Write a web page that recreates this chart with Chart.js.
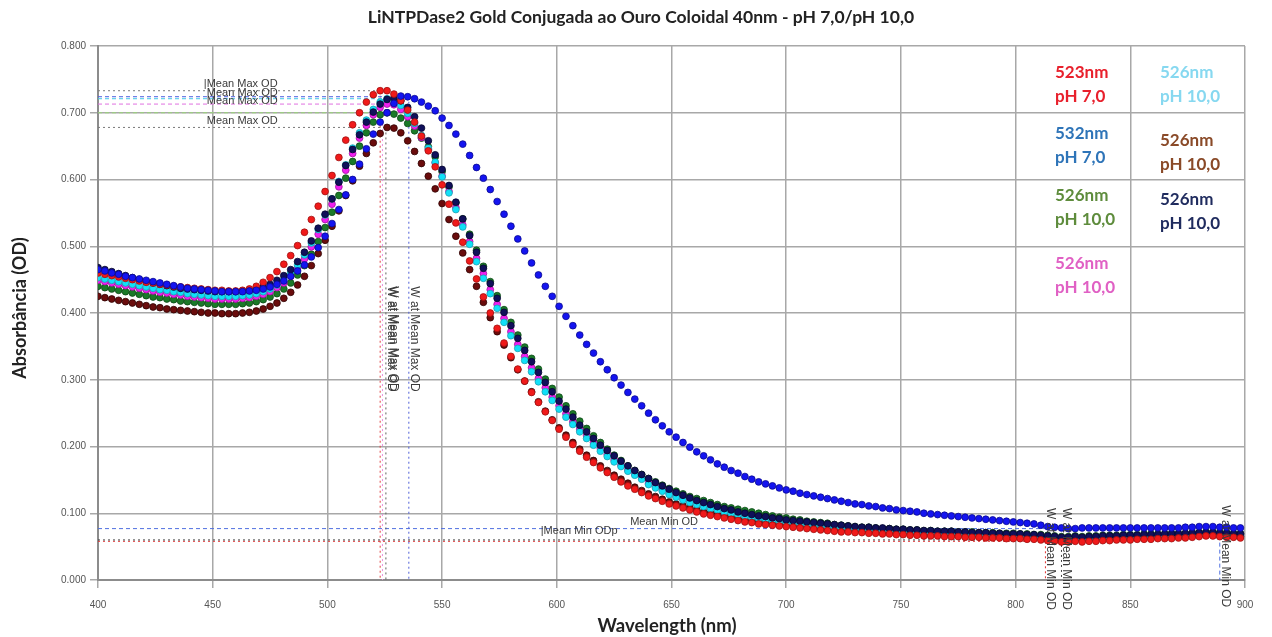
<!DOCTYPE html>
<html>
<head>
<meta charset="utf-8">
<script src="https://cdn.jsdelivr.net/npm/chart.js@4"></script>
<style>
  body { margin: 0; background: #fff; }
  canvas { display: block; }
</style>
</head>
<body>
<canvas id="chart" width="1272" height="637"></canvas>
<script>
// Chart data

const chartTitle = 'LiNTPDase2 Gold Conjugada ao Ouro Coloidal 40nm - pH 7,0/pH 10,0';

const wavelengths = [
    400,403,406,409,412,415,418,421,424,427,
    430,433,436,439,442,445,448,451,454,457,
    460,463,466,469,472,475,478,481,484,487,
    490,493,496,499,502,505,508,511,514,517,
    520,523,526,529,532,535,538,541,544,547,
    550,553,556,559,562,565,568,571,574,577,
    580,583,586,589,592,595,598,601,604,607,
    610,613,616,619,622,625,628,631,634,637,
    640,643,646,649,652,655,658,661,664,667,
    670,673,676,679,682,685,688,691,694,697,
    700,703,706,709,712,715,718,721,724,727,
    730,733,736,739,742,745,748,751,754,757,
    760,763,766,769,772,775,778,781,784,787,
    790,793,796,799,802,805,808,811,814,817,
    820,823,826,829,832,835,838,841,844,847,
    850,853,856,859,862,865,868,871,874,877,
    880,883,886,889,892,895,898
];

// 523nm pH 7,0
const odRed = [
    0.460,0.458,0.456,0.454,0.452,0.450,0.448,0.446,0.445,0.443,
    0.442,0.440,0.439,0.438,0.437,0.436,0.435,0.434,0.434,0.433,
    0.433,0.434,0.436,0.440,0.446,0.453,0.462,0.473,0.486,0.501,
    0.521,0.540,0.560,0.582,0.606,0.633,0.659,0.682,0.700,0.716,
    0.727,0.733,0.733,0.728,0.718,0.704,0.686,0.665,0.643,0.619,
    0.592,0.563,0.535,0.506,0.478,0.451,0.424,0.400,0.377,0.355,
    0.335,0.316,0.298,0.281,0.266,0.252,0.239,0.226,0.214,0.203,
    0.193,0.184,0.176,0.168,0.161,0.154,0.147,0.141,0.136,0.131,
    0.126,0.122,0.118,0.114,0.111,0.108,0.105,0.102,0.099,0.097,
    0.095,0.093,0.091,0.089,0.087,0.086,0.084,0.083,0.082,0.081,
    0.080,0.079,0.078,0.077,0.076,0.075,0.074,0.073,0.072,0.072,
    0.071,0.071,0.070,0.070,0.069,0.069,0.068,0.068,0.067,0.067,
    0.066,0.066,0.066,0.065,0.065,0.065,0.064,0.064,0.064,0.063,
    0.063,0.063,0.062,0.062,0.062,0.061,0.061,0.060,0.059,0.058,
    0.057,0.057,0.058,0.057,0.058,0.058,0.059,0.059,0.060,0.060,
    0.060,0.061,0.061,0.061,0.062,0.062,0.062,0.063,0.063,0.064,
    0.065,0.066,0.066,0.065,0.064,0.064,0.063
];

// 532nm pH 7,0
const odBlue = [
    0.465,0.463,0.460,0.458,0.455,0.453,0.451,0.449,0.447,0.445,
    0.443,0.441,0.439,0.437,0.436,0.435,0.434,0.433,0.432,0.432,
    0.432,0.432,0.433,0.434,0.436,0.439,0.443,0.448,0.455,0.463,
    0.472,0.484,0.498,0.515,0.534,0.555,0.577,0.600,0.623,0.646,
    0.668,0.686,0.700,0.714,0.725,0.724,0.721,0.716,0.710,0.703,
    0.692,0.681,0.668,0.653,0.636,0.618,0.602,0.585,0.567,0.548,
    0.530,0.511,0.493,0.475,0.457,0.440,0.425,0.410,0.395,0.381,
    0.367,0.353,0.340,0.327,0.315,0.303,0.292,0.281,0.271,0.261,
    0.250,0.240,0.231,0.222,0.214,0.206,0.199,0.192,0.186,0.180,
    0.174,0.169,0.164,0.160,0.155,0.151,0.147,0.144,0.141,0.138,
    0.135,0.133,0.130,0.128,0.126,0.124,0.122,0.120,0.118,0.116,
    0.114,0.113,0.111,0.110,0.108,0.107,0.105,0.104,0.103,0.102,
    0.100,0.099,0.098,0.097,0.096,0.095,0.094,0.093,0.092,0.091,
    0.090,0.089,0.088,0.087,0.086,0.085,0.084,0.082,0.080,0.079,
    0.078,0.077,0.077,0.078,0.078,0.078,0.078,0.078,0.078,0.078,
    0.078,0.078,0.078,0.078,0.078,0.078,0.078,0.078,0.079,0.079,
    0.080,0.080,0.080,0.079,0.079,0.078,0.078
];

// 526nm pH 10,0 (green)
const odGreen = [
    0.440,0.438,0.436,0.434,0.432,0.430,0.428,0.426,0.424,0.423,
    0.421,0.420,0.418,0.417,0.416,0.415,0.414,0.413,0.413,0.413,
    0.413,0.414,0.415,0.417,0.420,0.424,0.429,0.436,0.445,0.457,
    0.471,0.488,0.507,0.528,0.551,0.576,0.602,0.627,0.650,0.670,
    0.686,0.697,0.700,0.698,0.692,0.684,0.673,0.662,0.649,0.634,
    0.612,0.589,0.565,0.541,0.518,0.494,0.470,0.447,0.426,0.405,
    0.386,0.367,0.349,0.332,0.316,0.301,0.287,0.274,0.261,0.249,
    0.238,0.227,0.216,0.206,0.196,0.187,0.179,0.171,0.164,0.158,
    0.152,0.147,0.142,0.137,0.133,0.129,0.125,0.122,0.119,0.116,
    0.113,0.110,0.108,0.106,0.104,0.102,0.100,0.098,0.096,0.094,
    0.093,0.091,0.090,0.088,0.087,0.086,0.085,0.083,0.082,0.081,
    0.080,0.079,0.079,0.078,0.077,0.077,0.076,0.076,0.075,0.075,
    0.074,0.074,0.073,0.073,0.073,0.072,0.072,0.072,0.071,0.071,
    0.071,0.070,0.070,0.070,0.069,0.069,0.068,0.068,0.067,0.066,
    0.065,0.065,0.066,0.065,0.066,0.066,0.067,0.067,0.067,0.068,
    0.068,0.068,0.069,0.069,0.069,0.069,0.070,0.070,0.070,0.071,
    0.071,0.072,0.072,0.071,0.071,0.070,0.070
];

// 526nm pH 10,0 (magenta)
const odMagenta = [
    0.449,0.447,0.445,0.443,0.441,0.439,0.437,0.435,0.433,0.431,
    0.430,0.428,0.427,0.425,0.424,0.423,0.422,0.421,0.421,0.421,
    0.421,0.422,0.423,0.425,0.428,0.432,0.438,0.445,0.455,0.467,
    0.481,0.499,0.518,0.540,0.563,0.589,0.614,0.639,0.662,0.681,
    0.697,0.708,0.713,0.712,0.705,0.694,0.680,0.663,0.645,0.625,
    0.605,0.582,0.558,0.532,0.507,0.482,0.459,0.435,0.413,0.392,
    0.372,0.353,0.335,0.318,0.302,0.288,0.274,0.261,0.249,0.237,
    0.226,0.216,0.206,0.197,0.188,0.180,0.172,0.165,0.159,0.153,
    0.145,0.140,0.135,0.130,0.126,0.122,0.118,0.115,0.112,0.109,
    0.107,0.104,0.102,0.100,0.098,0.096,0.094,0.093,0.091,0.090,
    0.088,0.087,0.086,0.085,0.084,0.083,0.082,0.081,0.080,0.079,
    0.078,0.078,0.077,0.077,0.076,0.075,0.075,0.074,0.074,0.073,
    0.073,0.072,0.072,0.072,0.071,0.071,0.070,0.070,0.070,0.069,
    0.069,0.068,0.068,0.068,0.067,0.067,0.066,0.066,0.065,0.064,
    0.063,0.063,0.064,0.063,0.064,0.064,0.065,0.065,0.065,0.066,
    0.066,0.066,0.067,0.067,0.067,0.068,0.068,0.068,0.069,0.069,
    0.070,0.070,0.070,0.069,0.069,0.068,0.068
];

// 526nm pH 10,0 (cyan)
const odCyan = [
    0.453,0.451,0.449,0.447,0.445,0.443,0.441,0.439,0.437,0.435,
    0.434,0.432,0.431,0.429,0.428,0.427,0.426,0.425,0.425,0.425,
    0.425,0.426,0.427,0.429,0.432,0.436,0.442,0.450,0.460,0.472,
    0.487,0.505,0.525,0.547,0.571,0.597,0.622,0.647,0.670,0.689,
    0.705,0.716,0.721,0.719,0.711,0.699,0.684,0.666,0.647,0.626,
    0.604,0.580,0.555,0.529,0.503,0.477,0.452,0.429,0.407,0.386,
    0.366,0.347,0.329,0.312,0.297,0.282,0.269,0.256,0.244,0.233,
    0.222,0.212,0.202,0.193,0.185,0.177,0.170,0.163,0.157,0.151,
    0.143,0.138,0.133,0.128,0.124,0.120,0.116,0.113,0.110,0.107,
    0.105,0.102,0.100,0.098,0.096,0.094,0.092,0.091,0.089,0.088,
    0.086,0.085,0.084,0.083,0.082,0.081,0.080,0.079,0.078,0.077,
    0.077,0.076,0.076,0.075,0.074,0.074,0.073,0.073,0.072,0.072,
    0.071,0.071,0.071,0.070,0.070,0.069,0.069,0.069,0.068,0.068,
    0.068,0.067,0.067,0.066,0.066,0.066,0.065,0.065,0.064,0.063,
    0.062,0.062,0.063,0.062,0.063,0.063,0.064,0.064,0.064,0.065,
    0.065,0.065,0.066,0.066,0.066,0.067,0.067,0.067,0.068,0.068,
    0.069,0.069,0.069,0.068,0.068,0.067,0.067
];

// 526nm pH 10,0 (brown)
const odMaroon = [
    0.425,0.423,0.421,0.419,0.417,0.415,0.413,0.411,0.409,0.408,
    0.406,0.405,0.404,0.403,0.402,0.401,0.400,0.400,0.399,0.399,
    0.399,0.400,0.401,0.403,0.406,0.410,0.415,0.422,0.431,0.442,
    0.455,0.471,0.489,0.509,0.530,0.553,0.576,0.598,0.620,0.639,
    0.655,0.669,0.678,0.677,0.670,0.658,0.642,0.624,0.605,0.586,
    0.564,0.540,0.515,0.490,0.465,0.440,0.416,0.393,0.372,0.352,
    0.333,0.315,0.298,0.282,0.267,0.253,0.240,0.228,0.217,0.206,
    0.196,0.187,0.179,0.171,0.164,0.157,0.151,0.145,0.139,0.134,
    0.129,0.125,0.121,0.117,0.114,0.111,0.108,0.105,0.102,0.100,
    0.098,0.096,0.094,0.092,0.090,0.089,0.087,0.086,0.085,0.084,
    0.083,0.082,0.081,0.080,0.079,0.078,0.077,0.076,0.075,0.075,
    0.074,0.074,0.073,0.073,0.072,0.072,0.071,0.071,0.070,0.070,
    0.069,0.069,0.069,0.068,0.068,0.068,0.067,0.067,0.067,0.066,
    0.066,0.066,0.065,0.065,0.065,0.064,0.064,0.063,0.062,0.061,
    0.060,0.060,0.061,0.060,0.061,0.061,0.062,0.062,0.062,0.063,
    0.063,0.063,0.064,0.064,0.064,0.065,0.065,0.065,0.066,0.066,
    0.067,0.067,0.067,0.066,0.066,0.065,0.065
];

// 526nm pH 10,0 (navy)
const odNavy = [
    0.468,0.465,0.462,0.459,0.456,0.453,0.450,0.447,0.445,0.443,
    0.441,0.439,0.437,0.436,0.435,0.434,0.433,0.432,0.432,0.432,
    0.432,0.433,0.434,0.436,0.439,0.443,0.449,0.456,0.465,0.477,
    0.491,0.508,0.527,0.548,0.571,0.596,0.621,0.645,0.667,0.686,
    0.701,0.713,0.720,0.722,0.718,0.708,0.694,0.677,0.658,0.637,
    0.615,0.591,0.566,0.541,0.516,0.491,0.467,0.444,0.422,0.401,
    0.381,0.362,0.344,0.327,0.311,0.296,0.282,0.268,0.256,0.244,
    0.232,0.222,0.212,0.202,0.194,0.186,0.178,0.171,0.164,0.158,
    0.152,0.146,0.141,0.136,0.131,0.127,0.123,0.119,0.116,0.113,
    0.110,0.107,0.105,0.102,0.100,0.098,0.096,0.095,0.093,0.092,
    0.090,0.089,0.088,0.087,0.086,0.085,0.084,0.083,0.082,0.081,
    0.080,0.079,0.079,0.078,0.078,0.077,0.076,0.076,0.075,0.075,
    0.074,0.074,0.073,0.073,0.073,0.072,0.072,0.071,0.071,0.071,
    0.070,0.070,0.069,0.069,0.069,0.068,0.068,0.067,0.066,0.065,
    0.064,0.064,0.065,0.064,0.065,0.065,0.066,0.066,0.066,0.067,
    0.067,0.067,0.068,0.068,0.068,0.069,0.069,0.069,0.070,0.070,
    0.071,0.071,0.071,0.070,0.070,0.069,0.069
];

// Mean Max OD / Mean Min OD markers
const maxOD    = [0.733, 0.724, 0.721, 0.713, 0.700, 0.678];
const maxW     = [523, 535.5, 526, 524, 526, 525.5];
const maxColor = ['#7a7a7a', '#4a5ee0', '#40c8e8', '#e070e0', '#9ad67a', '#7a7a7a'];
const peakW     = [523, 524, 525.5, 535.5];
const peakTop   = [0.733, 0.713, 0.678, 0.724];
const peakColor = ['#e04040', '#e890e0', '#606060', '#5060d8'];
const minOD    = [0.077, 0.060, 0.058];
const minW     = [889, 820, 813];
const minColor = ['#5070e0', '#404040', '#e03030'];

// Legend text grid (two columns)
const legendText  = [['523nm', 'pH 7,0'], ['532nm', 'pH 7,0'], ['526nm', 'pH 10,0'], ['526nm', 'pH 10,0'],
                     ['526nm', 'pH 10,0'], ['526nm', 'pH 10,0'], ['526nm', 'pH 10,0']];
const legendColor = ['#e8202c', '#2e74b8', '#5e8c3c', '#e060c4', '#86d8f0', '#8a4a28', '#1f2b5e'];
const legendX     = [1055, 1055, 1055, 1055, 1160, 1160, 1160];
const legendY     = [72, 133, 195, 263, 72, 140, 199];

const yTicks = ['0.000', '0.100', '0.200', '0.300', '0.400', '0.500', '0.600', '0.700', '0.800'];

// Build datasets
function points(values) {
    return wavelengths.map((w, i) => ({ x: w, y: values[i] }));
}

function dotSeries(values, fill, edge) {
    return {
        data: points(values),
        showLine: false,
        pointRadius: 3.4,
        pointBackgroundColor: fill,
        pointBorderColor: edge,
        pointBorderWidth: 0.8
    };
}

function refLine(a, b, color, dash) {
    return {
        data: [a, b],
        showLine: true,
        borderColor: color,
        borderWidth: 1,
        borderDash: dash,
        pointRadius: 0
    };
}

const datasets = [
    dotSeries(odBlue, '#1414f0', '#0a0a90'),
    dotSeries(odRed, '#f01a1a', '#a01010'),
    dotSeries(odNavy, '#10105a', '#050530'),
    dotSeries(odCyan, '#10e0f8', '#20a0b0'),
    dotSeries(odMagenta, '#f020f0', '#a010a0'),
    dotSeries(odGreen, '#1a7a28', '#0e4a18'),
    dotSeries(odMaroon, '#6a0c0c', '#300404')
];

maxOD.forEach((v, i) => {
    const dash = maxColor[i] === '#7a7a7a' ? [2, 3] : [4, 3];
    datasets.push(refLine({ x: 400, y: v }, { x: maxW[i], y: v }, maxColor[i], dash));
});
peakW.forEach((w, i) => {
    datasets.push(refLine({ x: w, y: peakTop[i] }, { x: w, y: 0 }, peakColor[i], [2, 3]));
});
minOD.forEach((v, i) => {
    const dash = i === 0 ? [4, 3] : [2, 3];
    datasets.push(refLine({ x: 400, y: v }, { x: minW[i], y: v }, minColor[i], dash));
    datasets.push(refLine({ x: minW[i], y: v }, { x: minW[i], y: 0 }, minColor[i], dash));
});

// Text drawn on top: title, axis titles, legend and marker labels
const textPlugin = {
    id: 'textPlugin',
    afterDraw(chart) {
        const c = chart.ctx;
        const xs = chart.scales.x;
        const ys = chart.scales.y;
        c.save();

        c.fillStyle = '#222';
        c.font = 'bold 17.5px Lato';
        c.textAlign = 'center';
        c.textBaseline = 'middle';
        c.fillText(chartTitle, 641, 17);

        c.font = 'bold 18.5px Lato';
        c.fillText('Wavelength (nm)', 667, 626);
        c.save();
        c.translate(20, 308);
        c.rotate(-Math.PI / 2);
        c.font = 'bold 18px Lato';
        c.fillText('Absorbância (OD)', 0, 0);
        c.restore();

        // legend grid
        c.font = 'bold 17px Lato';
        c.textAlign = 'left';
        legendText.forEach((lines, i) => {
            c.fillStyle = legendColor[i];
            c.fillText(lines[0], legendX[i], legendY[i] + 1);
            c.fillText(lines[1], legendX[i], legendY[i] + 25);
        });

        // marker labels
        c.fillStyle = '#3a3a3a';
        c.font = '11px Arial';
        c.textBaseline = 'alphabetic';
        const lx = xs.getPixelForValue(447);
        c.fillText('|Mean Max OD', lx - 2, ys.getPixelForValue(0.733) - 4);
        c.fillText('Mean Max OD', lx + 1, ys.getPixelForValue(0.724) - 1);
        c.fillText('Mean Max OD', lx + 1, ys.getPixelForValue(0.713));
        c.fillText('Mean Max OD', lx + 1, ys.getPixelForValue(0.678) - 3);
        c.fillText('Mean Min OD', xs.getPixelForValue(632), ys.getPixelForValue(0.077) - 4);
        c.fillText('|Mean Min ODp', xs.getPixelForValue(593), ys.getPixelForValue(0.058) - 7);

        const vLabel = (text, w, y0, dx) => {
            c.save();
            c.translate(xs.getPixelForValue(w) + dx, ys.getPixelForValue(y0));
            c.rotate(Math.PI / 2);
            c.fillText(text, 0, 0);
            c.restore();
        };
        c.font = '12px Arial';
        vLabel('W at Mean Max OD', 525.5, 0.44, 2);
        vLabel('W at Mean Max OD', 524, 0.44, 8);
        vLabel('W at Mean Max OD', 535.5, 0.44, 2);

        vLabel('W at Mean Min OD', 813, 0.108, 2);
        vLabel('W at Mean Min OD', 820, 0.108, 2);
        vLabel('W at Mean Min OD', 889, 0.112, 2);
        c.restore();
    }
};

new Chart(document.getElementById('chart'), {
    type: 'scatter',
    data: { datasets: datasets },
    options: {
        responsive: false,
        animation: false,
        layout: { padding: { top: 46, right: 27, left: 0, bottom: 0 } },
        plugins: { legend: { display: false }, tooltip: { enabled: false } },
        scales: {
            x: {
                type: 'linear',
                min: 400,
                max: 900,
                ticks: { stepSize: 50, color: '#555', font: { family: 'Arial', size: 10 }, padding: 11 },
                grid: { color: '#a8a8a8', lineWidth: 1.5, tickLength: 8 },
                border: { color: '#8c8c8c', width: 2 },
                afterFit(scale) { scale.height = 57; }
            },
            y: {
                min: 0,
                max: 0.8,
                ticks: {
                    stepSize: 0.1,
                    color: '#555',
                    font: { family: 'Arial', size: 10 },
                    padding: 4,
                    callback: (v, i) => yTicks[i]
                },
                grid: { color: '#a8a8a8', lineWidth: 1.5, tickLength: 8 },
                border: { color: '#8c8c8c', width: 2 },
                afterFit(scale) { scale.width = 98; }
            }
        }
    },
    plugins: [textPlugin]
});
</script>
</body>
</html>
